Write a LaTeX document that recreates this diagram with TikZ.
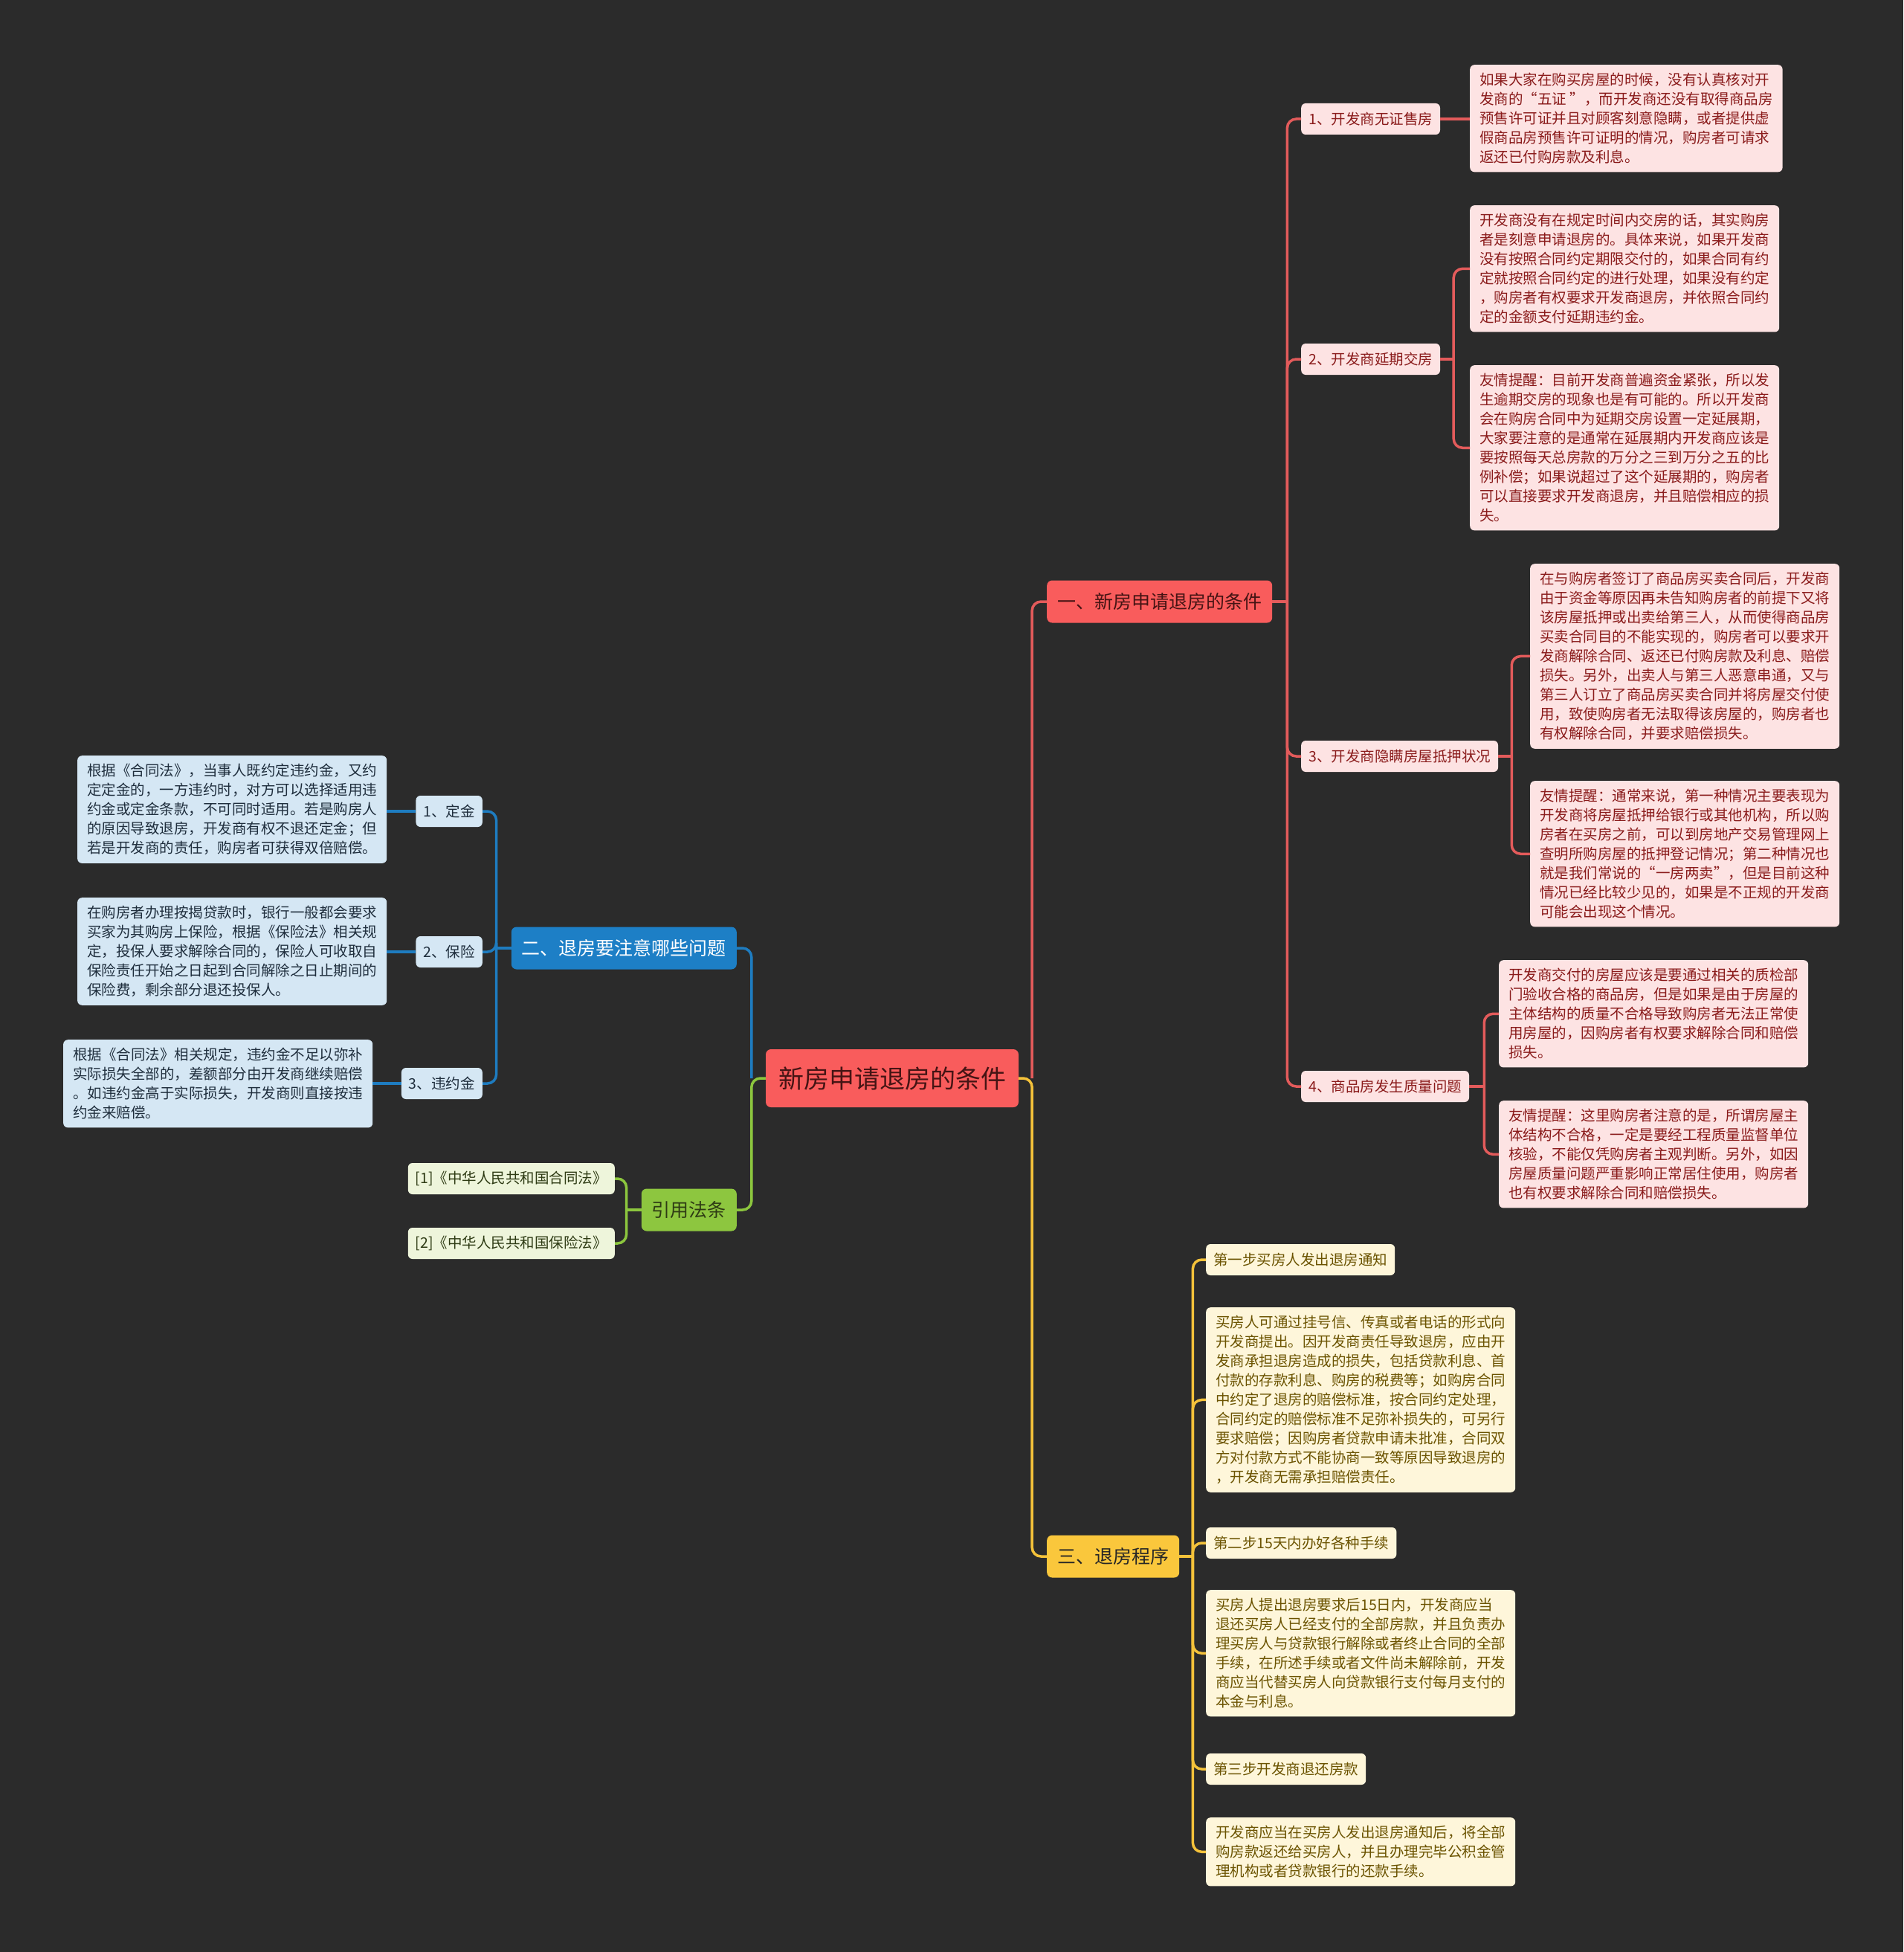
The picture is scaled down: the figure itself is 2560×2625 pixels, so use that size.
\documentclass[tikz,border=0pt]{standalone}
\usepackage{fontspec}
\usepackage{xcolor}
\usepackage{tikz}
\usetikzlibrary{positioning,calc}
\newfontfamily\cjk{Noto Sans CJK SC}
\definecolor{bgc}{HTML}{2B2B2B}
\definecolor{redmain}{HTML}{F95C5C}
\definecolor{redtxt}{HTML}{451414}
\definecolor{redlight}{HTML}{FDE3E3}
\definecolor{redink}{HTML}{8A1B1B}
\definecolor{redln}{HTML}{E35B5B}
\definecolor{bluemain}{HTML}{1D7FC6}
\definecolor{bluelight}{HTML}{D5E7F4}
\definecolor{blueink}{HTML}{1F2E3D}
\definecolor{blueln}{HTML}{1E7CC0}
\definecolor{greenmain}{HTML}{8DC63F}
\definecolor{greenlight}{HTML}{EEF5DB}
\definecolor{greenink}{HTML}{2E3B14}
\definecolor{greenln}{HTML}{8CC63E}
\definecolor{yelmain}{HTML}{FAC73C}
\definecolor{yellight}{HTML}{FEF6DA}
\definecolor{yelink}{HTML}{6B5300}
\definecolor{yelln}{HTML}{F4C23A}
\tikzset{
  rootnd/.style={rounded corners=7pt, fill=redmain, text=redtxt, inner xsep=17pt, minimum height=78pt, font=\cjk\fontsize{34}{40}\selectfont},
  brnd/.style={rounded corners=7pt, inner xsep=14pt, minimum height=57pt, font=\cjk\fontsize{25}{30}\selectfont},
  lfnd/.style={rounded corners=6pt, inner xsep=10pt, minimum height=42pt, font=\cjk\fontsize{19.5}{24}\selectfont},
  txtnd/.style={rounded corners=6pt, inner xsep=13pt, inner ysep=11pt, align=left, font=\cjk\fontsize{19.5}{26}\selectfont},
  R/.style={fill=redlight, text=redink},
  B/.style={fill=bluelight, text=blueink},
  G/.style={fill=greenlight, text=greenink},
  Y/.style={fill=yellight, text=yelink},
  Rl/.style={draw=redln, line width=3.5pt, rounded corners=12pt},
  Bl/.style={draw=blueln, line width=3.5pt, rounded corners=12pt},
  Gl/.style={draw=greenln, line width=3.5pt, rounded corners=12pt},
  Yl/.style={draw=yelln, line width=3.5pt, rounded corners=12pt}
}
\begin{document}
\begin{tikzpicture}[x=1pt, y=-1pt]
  \fill[bgc] (0,0) rectangle (2560,2625);
  \useasboundingbox (0,0) rectangle (2560,2625);
  % centre and main branches
  \node[rootnd] (root) at (1200,1450) {新房申请退房的条件};
  \node[brnd, fill=redmain, text=redtxt, anchor=west] (b1) at (1408,809) {一、新房申请退房的条件};
  \node[brnd, fill=bluemain, text=white, anchor=east] (b2) at (991,1275) {二、退房要注意哪些问题};
  \node[brnd, fill=greenmain, text=greenink, anchor=east] (b4) at (991,1627) {引用法条};
  \node[brnd, fill=yelmain, text=black!85, anchor=west] (b3) at (1408,2093) {三、退房程序};
  % branch one
  \node[lfnd, R, anchor=west] (s1) at (1750,160) {1、开发商无证售房};
  \node[lfnd, R, anchor=west] (s2) at (1750,483) {2、开发商延期交房};
  \node[lfnd, R, anchor=west] (s3) at (1750,1017) {3、开发商隐瞒房屋抵押状况};
  \node[lfnd, R, anchor=west] (s4) at (1750,1461) {4、商品房发生质量问题};
  \node[txtnd, R, anchor=north west] (d1) at (1977,87) {如果大家在购买房屋的时候，没有认真核对开\\发商的“五证 ”，而开发商还没有取得商品房\\预售许可证并且对顾客刻意隐瞒，或者提供虚\\假商品房预售许可证明的情况，购房者可请求\\返还已付购房款及利息。};
  \node[txtnd, R, anchor=north west] (d2) at (1977,276) {开发商没有在规定时间内交房的话，其实购房\\者是刻意申请退房的。具体来说，如果开发商\\没有按照合同约定期限交付的，如果合同有约\\定就按照合同约定的进行处理，如果没有约定\\，购房者有权要求开发商退房，并依照合同约\\定的金额支付延期违约金。};
  \node[txtnd, R, anchor=north west] (d3) at (1977,491) {友情提醒：目前开发商普遍资金紧张，所以发\\生逾期交房的现象也是有可能的。所以开发商\\会在购房合同中为延期交房设置一定延展期，\\大家要注意的是通常在延展期内开发商应该是\\要按照每天总房款的万分之三到万分之五的比\\例补偿；如果说超过了这个延展期的，购房者\\可以直接要求开发商退房，并且赔偿相应的损\\失。};
  \node[txtnd, R, anchor=north west] (d4) at (2058,758) {在与购房者签订了商品房买卖合同后，开发商\\由于资金等原因再未告知购房者的前提下又将\\该房屋抵押或出卖给第三人，从而使得商品房\\买卖合同目的不能实现的，购房者可以要求开\\发商解除合同、返还已付购房款及利息、赔偿\\损失。另外，出卖人与第三人恶意串通，又与\\第三人订立了商品房买卖合同并将房屋交付使\\用，致使购房者无法取得该房屋的，购房者也\\有权解除合同，并要求赔偿损失。};
  \node[txtnd, R, anchor=north west] (d5) at (2058,1050) {友情提醒：通常来说，第一种情况主要表现为\\开发商将房屋抵押给银行或其他机构，所以购\\房者在买房之前，可以到房地产交易管理网上\\查明所购房屋的抵押登记情况；第二种情况也\\就是我们常说的“一房两卖”，但是目前这种\\情况已经比较少见的，如果是不正规的开发商\\可能会出现这个情况。};
  \node[txtnd, R, anchor=north west] (d6) at (2016,1291) {开发商交付的房屋应该是要通过相关的质检部\\门验收合格的商品房，但是如果是由于房屋的\\主体结构的质量不合格导致购房者无法正常使\\用房屋的，因购房者有权要求解除合同和赔偿\\损失。};
  \node[txtnd, R, anchor=north west] (d7) at (2016,1480) {友情提醒：这里购房者注意的是，所谓房屋主\\体结构不合格，一定是要经工程质量监督单位\\核验，不能仅凭购房者主观判断。另外，如因\\房屋质量问题严重影响正常居住使用，购房者\\也有权要求解除合同和赔偿损失。};
  % branch two
  \node[lfnd, B, anchor=east] (q1) at (649,1091) {1、定金};
  \node[lfnd, B, anchor=east] (q2) at (649,1280) {2、保险};
  \node[lfnd, B, anchor=east] (q3) at (649,1457) {3、违约金};
  \node[txtnd, B, anchor=north west] (e1) at (104,1016) {根据《合同法》，当事人既约定违约金，又约\\定定金的，一方违约时，对方可以选择适用违\\约金或定金条款，不可同时适用。若是购房人\\的原因导致退房，开发商有权不退还定金；但\\若是开发商的责任，购房者可获得双倍赔偿。};
  \node[txtnd, B, anchor=north west] (e2) at (104,1207) {在购房者办理按揭贷款时，银行一般都会要求\\买家为其购房上保险，根据《保险法》相关规\\定，投保人要求解除合同的，保险人可收取自\\保险责任开始之日起到合同解除之日止期间的\\保险费，剩余部分退还投保人。};
  \node[txtnd, B, anchor=north west] (e3) at (85,1398) {根据《合同法》相关规定，违约金不足以弥补\\实际损失全部的，差额部分由开发商继续赔偿\\。如违约金高于实际损失，开发商则直接按违\\约金来赔偿。};
  % cited laws
  \node[lfnd, G, anchor=east] (c1) at (827,1585) {[1]《中华人民共和国合同法》};
  \node[lfnd, G, anchor=east] (c2) at (827,1672) {[2]《中华人民共和国保险法》};
  % branch three
  \node[lfnd, Y, anchor=west] (p1) at (1622,1694) {第一步买房人发出退房通知};
  \node[txtnd, Y, anchor=north west] (p2) at (1622,1758) {买房人可通过挂号信、传真或者电话的形式向\\开发商提出。因开发商责任导致退房，应由开\\发商承担退房造成的损失，包括贷款利息、首\\付款的存款利息、购房的税费等；如购房合同\\中约定了退房的赔偿标准，按合同约定处理，\\合同约定的赔偿标准不足弥补损失的，可另行\\要求赔偿；因购房者贷款申请未批准，合同双\\方对付款方式不能协商一致等原因导致退房的\\，开发商无需承担赔偿责任。};
  \node[lfnd, Y, anchor=west] (p3) at (1622,2075) {第二步15天内办好各种手续};
  \node[txtnd, Y, anchor=north west] (p4) at (1622,2138) {买房人提出退房要求后15日内，开发商应当\\退还买房人已经支付的全部房款，并且负责办\\理买房人与贷款银行解除或者终止合同的全部\\手续，在所述手续或者文件尚未解除前，开发\\商应当代替买房人向贷款银行支付每月支付的\\本金与利息。};
  \node[lfnd, Y, anchor=west] (p5) at (1622,2379) {第三步开发商退还房款};
  \node[txtnd, Y, anchor=north west] (p6) at (1622,2444) {开发商应当在买房人发出退房通知后，将全部\\购房款返还给买房人，并且办理完毕公积金管\\理机构或者贷款银行的还款手续。};
  % connectors
  \coordinate (tr) at ($(root.east)+(18,0)$);
  \coordinate (tl) at ($(root.west)+(-19,0)$);
  \draw[Rl] (tr) |- (b1.west);
  \draw[Yl] (root.east) -- (tr) |- (b3.west);
  \draw[Bl] (tl) |- (b2.east);
  \draw[Gl] (root.west) -- (tl) |- (b4.east);
  \draw[Rl] (b1.east) -- ++(20,0) coordinate (t1);
  \foreach \n in {s1,s2,s3,s4} \draw[Rl] (t1) |- (\n.west);
  \draw[Rl] (s1.east) -- (s1.east -| d1.west);
  \draw[Rl] (s2.east) -- ++(18,0) coordinate (t2);
  \foreach \n in {d2,d3} \draw[Rl] (t2) |- (\n.west);
  \draw[Rl] (s3.east) -- ++(18,0) coordinate (t3);
  \foreach \n in {d4,d5} \draw[Rl] (t3) |- (\n.west);
  \draw[Rl] (s4.east) -- ++(20,0) coordinate (t4);
  \foreach \n in {d6,d7} \draw[Rl] (t4) |- (\n.west);
  \draw[Bl] (b2.west) -- ++(-20,0) coordinate (t5);
  \foreach \n in {q1,q2,q3} \draw[Bl] (t5) |- (\n.east);
  \draw[Bl] (q1.west) -- (q1.west -| e1.east);
  \draw[Bl] (q2.west) -- (q2.west -| e2.east);
  \draw[Bl] (q3.west) -- (q3.west -| e3.east);
  \draw[Gl] (b4.west) -- ++(-20,0) coordinate (t6);
  \foreach \n in {c1,c2} \draw[Gl] (t6) |- (\n.east);
  \draw[Yl] (b3.east) -- ++(18,0) coordinate (t7);
  \foreach \n in {p1,p2,p3,p4,p5,p6} \draw[Yl] (t7) |- (\n.west);
\end{tikzpicture}
\end{document}
